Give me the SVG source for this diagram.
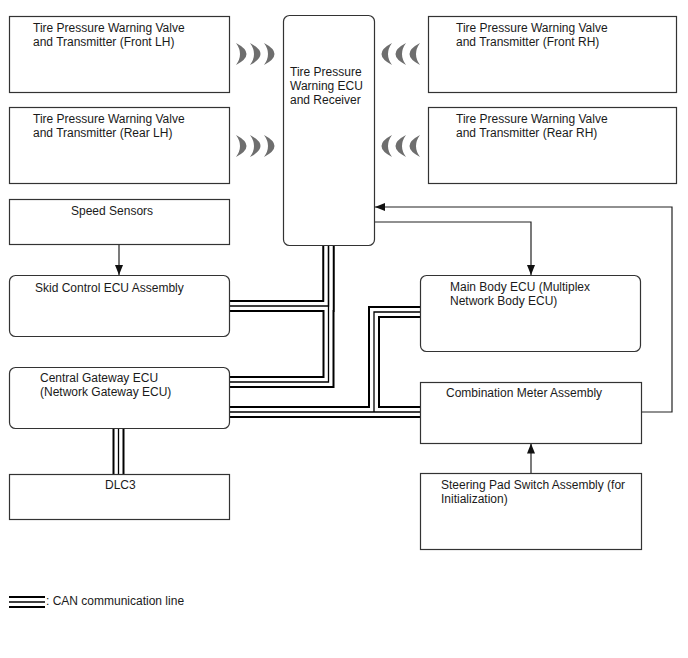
<svg xmlns="http://www.w3.org/2000/svg" width="688" height="658" viewBox="0 0 688 658">
<style>
.box{fill:#fff;stroke:#333;stroke-width:1.2}
.t{font-family:"Liberation Sans",Arial,sans-serif;font-size:12px;fill:#1a1a1a}
.co{fill:none;stroke:#000;stroke-width:12;stroke-linejoin:miter}
.cw{fill:none;stroke:#fff;stroke-width:8;stroke-linejoin:miter}
.ci{fill:none;stroke:#000;stroke-width:1.3;stroke-linejoin:miter}
.arr{fill:none;stroke:#222;stroke-width:1.2}
.wave{fill:#6e6e6e}
</style>
<defs>
<marker id="ah" markerUnits="userSpaceOnUse" markerWidth="10" markerHeight="10" refX="10" refY="4" orient="auto">
<path d="M0,0 L10,4 L0,8 Z" fill="#111"/>
</marker>
<path id="cr" d="M0,0 Q21,11 0,22 Q8,11 0,0 Z"/>
</defs>
<rect width="688" height="658" fill="#fff"/>
<g id="connectors">
<g id="can">
<path class="co" d="M328.5,245 V306 H229.5"/>
<path class="co" d="M328.5,245 V382 H229.5"/>
<path class="co" d="M229.5,412 H420.5"/>
<path class="co" d="M374,412 V312 H420.5"/>
<path class="co" d="M118.5,428.5 V474.5"/>
<path class="cw" d="M328.5,245 V306 H229.5"/>
<path class="cw" d="M328.5,245 V382 H229.5"/>
<path class="cw" d="M229.5,412 H420.5"/>
<path class="cw" d="M374,412 V312 H420.5"/>
<path class="cw" d="M118.5,428.5 V474.5"/>
<path class="ci" d="M328.5,245 V306 H229.5"/>
<path class="ci" d="M328.5,245 V382 H229.5"/>
<path class="ci" d="M229.5,412 H420.5"/>
<path class="ci" d="M374,412 V312 H420.5"/>
<path class="ci" d="M118.5,428.5 V474.5"/>
</g>
<path class="arr" d="M119,244.5 V275" marker-end="url(#ah)"/>
<path class="arr" d="M374.5,222 H531 V275" marker-end="url(#ah)"/>
<path class="arr" d="M641.5,412 H672 V207 H375" marker-end="url(#ah)"/>
<path class="arr" d="M531,473 V443.5" marker-end="url(#ah)"/>
<g id="waves" class="wave">
<use href="#cr" x="236" y="43"/>
<use href="#cr" x="250" y="43"/>
<use href="#cr" x="264" y="43"/>
<use href="#cr" x="236" y="135"/>
<use href="#cr" x="250" y="135"/>
<use href="#cr" x="264" y="135"/>
<use href="#cr" transform="translate(392,43) scale(-1,1)"/>
<use href="#cr" transform="translate(406,43) scale(-1,1)"/>
<use href="#cr" transform="translate(420,43) scale(-1,1)"/>
<use href="#cr" transform="translate(392,135) scale(-1,1)"/>
<use href="#cr" transform="translate(406,135) scale(-1,1)"/>
<use href="#cr" transform="translate(420,135) scale(-1,1)"/>
</g>
</g>
<g id="n-front-lh">
<rect class="box" x="9.5" y="16.5" width="220" height="76"/>
<text class="t" x="33" y="32">Tire Pressure Warning Valve</text>
<text class="t" x="33" y="46">and Transmitter (Front LH)</text>
</g>
<g id="n-rear-lh">
<rect class="box" x="9.5" y="107.5" width="220" height="76"/>
<text class="t" x="33" y="123">Tire Pressure Warning Valve</text>
<text class="t" x="33" y="137">and Transmitter (Rear LH)</text>
</g>
<g id="n-speed">
<rect class="box" x="9.5" y="199.5" width="220" height="45"/>
<text class="t" x="71" y="215">Speed Sensors</text>
</g>
<g id="n-skid">
<rect class="box" x="9.5" y="275.5" width="220" height="61" rx="6"/>
<text class="t" x="35" y="292">Skid Control ECU Assembly</text>
</g>
<g id="n-gateway">
<rect class="box" x="9.5" y="367.5" width="220" height="61" rx="6"/>
<text class="t" x="40" y="382">Central Gateway ECU</text>
<text class="t" x="40" y="396">(Network Gateway ECU)</text>
</g>
<g id="n-dlc3">
<rect class="box" x="9.5" y="474.5" width="220" height="45"/>
<text class="t" x="105" y="489">DLC3</text>
</g>
<g id="n-ecu">
<rect class="box" x="283.5" y="15.5" width="91" height="230" rx="6"/>
<text class="t" x="290" y="76">Tire Pressure</text>
<text class="t" x="290" y="90">Warning ECU</text>
<text class="t" x="290" y="104">and Receiver</text>
</g>
<g id="n-front-rh">
<rect class="box" x="428.5" y="16.5" width="248" height="76"/>
<text class="t" x="456" y="32">Tire Pressure Warning Valve</text>
<text class="t" x="456" y="46">and Transmitter (Front RH)</text>
</g>
<g id="n-rear-rh">
<rect class="box" x="428.5" y="107.5" width="248" height="76"/>
<text class="t" x="456" y="123">Tire Pressure Warning Valve</text>
<text class="t" x="456" y="137">and Transmitter (Rear RH)</text>
</g>
<g id="n-mainbody">
<rect class="box" x="420.5" y="275.5" width="220" height="76" rx="6"/>
<text class="t" x="450" y="291">Main Body ECU (Multiplex</text>
<text class="t" x="450" y="305">Network Body ECU)</text>
</g>
<g id="n-meter">
<rect class="box" x="420.5" y="382.5" width="221" height="61"/>
<text class="t" x="446" y="397">Combination Meter Assembly</text>
</g>
<g id="n-steering">
<rect class="box" x="420.5" y="473.5" width="221" height="76"/>
<text class="t" x="441" y="489">Steering Pad Switch Assembly (for</text>
<text class="t" x="441" y="503">Initialization)</text>
</g>
<g id="legend">
<path class="co" d="M9,602 H45"/>
<path class="cw" d="M9,602 H45"/>
<path class="ci" d="M9,602 H45"/>
<text class="t" x="46" y="605">: CAN communication line</text>
</g>
</svg>
